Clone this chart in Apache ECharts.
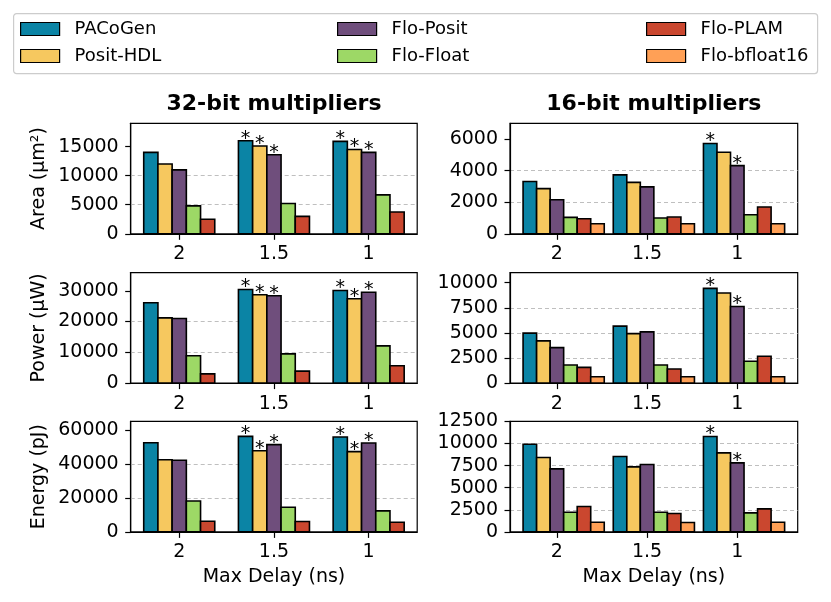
<!DOCTYPE html>
<html>
<head>
<meta charset="utf-8">
<script src="https://cdn.jsdelivr.net/npm/echarts@6/dist/echarts.min.js"></script>
<style>html,body{margin:0;padding:0;background:#fff;}#c{width:831px;height:602px;}</style>
</head>
<body>
<div id="c"></div>
<script>
// ---- data ----
const delays = ['2', '1.5', '1'];
const methods = ['PACoGen', 'Posit-HDL', 'Flo-Posit', 'Flo-Float', 'Flo-PLAM', 'Flo-bfloat16'];
const colors = ['#0b84a5', '#f6c85f', '#6f4e7c', '#9dd866', '#ca472f', '#ffa056'];

// 32-bit (5 methods), values per method at delays 2, 1.5, 1
const area32 = [[14000, 16000, 15900], [12000, 15100, 14500], [11000, 13600, 14000], [4800, 5200, 6700], [2500, 3000, 3750]];
const power32 = [[26100, 30400, 30100], [21200, 28700, 27400], [21000, 28400, 29500], [8900, 9500, 12100], [3000, 3900, 5650]];
const energy32 = [[52500, 56300, 55900], [42500, 47800, 47300], [42200, 51400, 52400], [18200, 14500, 12400], [6300, 6100, 5700]];
// 16-bit (6 methods)
const area16 = [[3310, 3730, 5720], [2860, 3260, 5170], [2160, 2970, 4320], [1040, 1000, 1210], [950, 1060, 1700], [640, 640, 640]];
const power16 = [[4970, 5670, 9430], [4200, 4930, 8970], [3530, 5100, 7630], [1800, 1800, 2170], [1570, 1400, 2670], [630, 630, 630]];
const energy16 = [[9920, 8530, 10790], [8420, 7360, 8940], [7130, 7620, 7810], [2230, 2230, 2150], [2870, 2080, 2600], [1090, 1060, 1090]];

// significance markers (*)
const stars32 = [[0, 1, 1], [0, 1, 1], [0, 1, 1], [0, 0, 0], [0, 0, 0]];
const stars16 = [[0, 0, 1], [0, 0, 0], [0, 0, 1], [0, 0, 0], [0, 0, 0], [0, 0, 0]];

const titles = ['32-bit multipliers', '16-bit multipliers'];
const yNames = ['Area (µm²)', 'Power (µW)', 'Energy (pJ)'];
const xName = 'Max Delay (ns)';

// ---- layout ----
const FONT = 'DejaVu Sans';
const FS = 19;
const FS_LEG = 18;
const BAR_W = 0.15;
const colLeft = [130.7, 510];
const colWidth = [286.5, 287.7];
const rowTop = [123.3, 272.6, 421.4];
const rowH = 110.5;
const xRange = [[-0.5125, 2.5125], [-0.52, 2.67]];
const yMax = [[19000, 35900, 65100], [7000, 11000, 12500]];
const yInt = [[5000, 10000, 20000], [2000, 2500, 2500]];

const panels = [
  [area32, power32, energy32],
  [area16, power16, energy16]
];
const stars = [stars32, stars16];

function tickList(max, step) {
  const out = [];
  for (let v = 0; v <= max + 1e-9; v += step) out.push(v);
  return out;
}

const grids = [], xAxes = [], yAxes = [], series = [];
for (let c = 0; c < 2; c++) {
  for (let r = 0; r < 3; r++) {
    const idx = grids.length;
    grids.push({
      left: colLeft[c], top: rowTop[r], width: colWidth[c], height: rowH,
      show: true, borderColor: '#000', borderWidth: 1.2, backgroundColor: 'transparent', containLabel: false
    });
    xAxes.push({
      type: 'value', gridIndex: idx, min: xRange[c][0], max: xRange[c][1],
      axisLine: { show: true, onZero: false, lineStyle: { color: '#000', width: 1.2 } },
      axisTick: { show: true, length: 6, lineStyle: { color: '#000', width: 1.2 }, customValues: [0, 1, 2] },
      axisLabel: {
        show: true, customValues: [0, 1, 2], margin: 11,
        color: '#000', fontSize: FS, fontFamily: FONT,
        formatter: v => delays[Math.round(v)]
      },
      splitLine: { show: false },
      name: r === 2 ? xName : '', nameLocation: 'middle', nameGap: 36,
      nameTextStyle: { color: '#000', fontSize: FS, fontFamily: FONT }
    });
    const ticks = tickList(yMax[c][r], yInt[c][r]);
    yAxes.push({
      type: 'value', gridIndex: idx, min: 0, max: yMax[c][r], interval: yInt[c][r],
      axisLine: { show: true, onZero: false, lineStyle: { color: '#000', width: 1.2 } },
      axisTick: { show: true, length: 5.5, lineStyle: { color: '#000', width: 1.2 }, customValues: ticks },
      axisLabel: {
        color: '#000', fontSize: FS, fontFamily: FONT, margin: 12, customValues: ticks,
        formatter: v => String(Math.round(v))
      },
      splitLine: { show: true, showMinLine: false, showMaxLine: false, lineStyle: { color: '#b8b8b8', type: [4, 3], width: 0.9 } },
      name: c === 0 ? yNames[r] : '', nameLocation: 'middle', nameGap: 82, nameRotate: 90,
      nameTextStyle: { color: '#000', fontSize: FS, fontFamily: FONT }
    });
    const data = panels[c][r];
    data.forEach((vals, m) => {
      const off = (m - 2) * BAR_W;
      const col = colors[m];
      series.push({
        type: 'custom', name: methods[m], xAxisIndex: idx, yAxisIndex: idx,
        itemStyle: { color: col },
        data: vals.map((v, k) => [k, v, stars[c][m][k]]),
        renderItem: function (params, api) {
          const k = api.value(0), v = api.value(1), s = api.value(2);
          const w = api.size([BAR_W, 0])[0];
          const top = api.coord([k + off, v]);
          const base = api.coord([k + off, 0]);
          const children = [{
            type: 'rect',
            shape: { x: top[0] - w / 2, y: top[1], width: w, height: base[1] - top[1] },
            style: { fill: col, stroke: '#000', lineWidth: 1.6 }
          }];
          if (s) {
            children.push({
              type: 'text',
              style: { text: '*', x: top[0], y: top[1] - 2, align: 'center', verticalAlign: 'middle', fontSize: FS, fontFamily: FONT, fill: '#000' }
            });
          }
          return { type: 'group', children: children };
        }
      });
    });
  }
}

function legendFor(names, left) {
  return {
    orient: 'vertical', left: left, top: 20, padding: 0,
    itemWidth: 39, itemHeight: 13, itemGap: 9, icon: 'rect', selectedMode: false,
    textStyle: { color: '#000', fontSize: FS_LEG, fontFamily: FONT, padding: [0, 0, 0, 10] },
    data: names.map(n => ({ name: n, itemStyle: { color: colors[methods.indexOf(n)], borderColor: '#000', borderWidth: 1.2 } }))
  };
}

const option = {
  animation: false,
  backgroundColor: '#fff',
  title: titles.map((t, c) => ({
    text: t, left: colLeft[c] + colWidth[c] / 2, top: 93, textAlign: 'center', padding: 0,
    textStyle: { color: '#000', fontSize: 22, fontWeight: 'bold', fontFamily: FONT }
  })),
  legend: [
    legendFor([methods[0], methods[1]], 20),
    legendFor([methods[2], methods[3]], 337),
    legendFor([methods[4], methods[5]], 646)
  ],
  graphic: [{
    type: 'rect', left: 13, top: 13, z: -1,
    shape: { width: 804, height: 60, r: 3 },
    style: { fill: '#fff', stroke: '#cccccc', lineWidth: 1.2 }
  }],
  grid: grids, xAxis: xAxes, yAxis: yAxes, series: series
};

const chart = echarts.init(document.getElementById('c'), null, { renderer: 'canvas' });
chart.setOption(option);
</script>
</body>
</html>
